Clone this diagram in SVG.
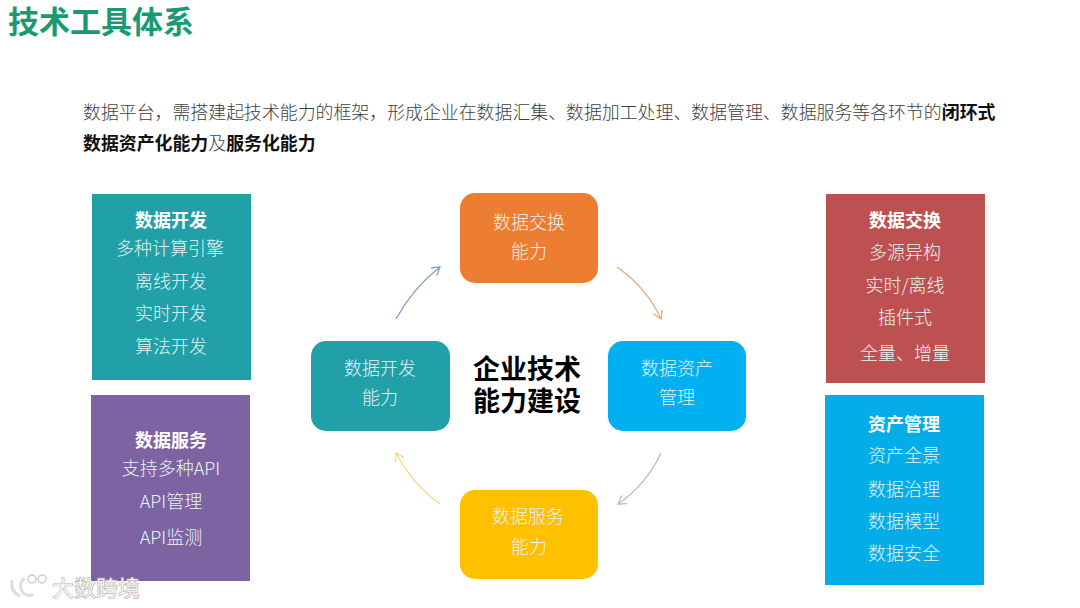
<svg xmlns="http://www.w3.org/2000/svg" width="1080" height="608" viewBox="0 0 1080 608">
<style>
text{font-family:"Noto Sans CJK SC","Liberation Sans",sans-serif}
.l{font-size:18px;fill:#e4f4f4;text-anchor:middle;font-weight:300}
.h{font-size:18px;fill:#fff;text-anchor:middle;font-weight:700}
.n{font-size:18px;fill:#e8f2f4;text-anchor:middle;font-weight:300}
.b{font-size:17.9px;fill:#404040;font-weight:300}
.bb{fill:#111;font-weight:700}
.c{font-size:27px;fill:#000;text-anchor:middle;font-weight:700}
.a{fill:none;stroke-width:1.2}
</style>
<defs>
<marker id="m1" markerWidth="12" markerHeight="12" refX="9" refY="5" orient="auto" markerUnits="userSpaceOnUse"><path d="M1 0L9 5L1 10" fill="none" stroke="#7f9bc0" stroke-width="1.2"/></marker>
<marker id="m2" markerWidth="12" markerHeight="12" refX="9" refY="5" orient="auto" markerUnits="userSpaceOnUse"><path d="M1 0L9 5L1 10" fill="none" stroke="#e0a878" stroke-width="1.2"/></marker>
<marker id="m3" markerWidth="12" markerHeight="12" refX="9" refY="5" orient="auto" markerUnits="userSpaceOnUse"><path d="M1 0L9 5L1 10" fill="none" stroke="#b8b8c0" stroke-width="1.2"/></marker>
<marker id="m4" markerWidth="12" markerHeight="12" refX="9" refY="5" orient="auto" markerUnits="userSpaceOnUse"><path d="M1 0L9 5L1 10" fill="none" stroke="#f2d67a" stroke-width="1.2"/></marker>
</defs>
<rect width="1080" height="608" fill="#fff"/>
<g id="title"><text x="8" y="33" font-weight="700" fill="#1a9a72" style="font-size:31px">技术工具体系</text></g>
<g id="intro">
<text class="b" x="83" y="119">数据平台，需搭建起技术能力的框架，形成企业在数据汇集、数据加工处理、数据管理、数据服务等各环节的<tspan class="bb">闭环式</tspan></text>
<text class="b" x="83" y="150"><tspan class="bb">数据资产化能力</tspan>及<tspan class="bb">服务化能力</tspan></text>
</g>
<g id="connectors">
<path class="a" d="M396 319Q413 288 440 267" stroke="#7f9bc0" marker-end="url(#m1)"/>
<path class="a" d="M617 267Q647 288 661 319" stroke="#e0a878" marker-end="url(#m2)"/>
<path class="a" d="M661 453Q646 485 618 504" stroke="#b8b8c0" marker-end="url(#m3)"/>
<path class="a" d="M440 504Q414 486 396 453" stroke="#f2d67a" marker-end="url(#m4)"/>
</g>
<g id="card-dev"><rect x="92" y="194" width="159" height="186" fill="#21a0a8"/>
<text class="h" x="171" y="227">数据开发</text><text class="l" x="170" y="255">多种计算引擎</text><text class="l" x="171" y="288">离线开发</text><text class="l" x="171" y="320">实时开发</text><text class="l" x="171" y="353">算法开发</text></g>
<g id="card-svc"><rect x="91" y="395" width="159" height="186" fill="#7e63a3"/>
<text class="h" x="171" y="447">数据服务</text><text class="l" x="171" y="475">支持多种API</text><text class="l" x="171" y="508">API管理</text><text class="l" x="171" y="544">API监测</text></g>
<g id="card-exc"><rect x="826" y="194" width="159" height="189" fill="#bd5151"/>
<text class="h" x="905" y="227">数据交换</text><text class="l" x="905" y="259">多源异构</text><text class="l" x="905" y="292">实时/离线</text><text class="l" x="905" y="324">插件式</text><text class="l" x="905" y="360">全量、增量</text></g>
<g id="card-asset"><rect x="825" y="395" width="159" height="190" fill="#05ade8"/>
<text class="h" x="904" y="431">资产管理</text><text class="l" x="904" y="462">资产全景</text><text class="l" x="904" y="496">数据治理</text><text class="l" x="904" y="528">数据模型</text><text class="l" x="904" y="560">数据安全</text></g>
<g id="node-exchange"><rect x="460" y="193" width="138" height="90" rx="15" fill="#ed7d31"/><text class="n" x="529" y="229">数据交换</text><text class="n" x="529" y="258">能力</text></g>
<g id="node-asset"><rect x="608" y="341" width="138" height="90" rx="15" fill="#00b0f0"/><text class="n" x="677" y="375">数据资产</text><text class="n" x="677" y="404">管理</text></g>
<g id="node-service"><rect x="460" y="490" width="138" height="89" rx="15" fill="#ffc000"/><text class="n" x="528" y="523">数据服务</text><text class="n" x="529" y="553">能力</text></g>
<g id="node-dev"><rect x="311" y="341" width="139" height="90" rx="15" fill="#21a0a8"/><text class="n" x="380" y="375">数据开发</text><text class="n" x="380" y="404">能力</text></g>
<g id="center"><text class="c"><tspan x="527" y="379">企业技术</tspan><tspan x="527" y="411">能力建设</tspan></text></g>
<g id="watermark"><text x="52" y="596" style="font-size:22px;fill:#fff;stroke:#bbb;stroke-width:.7;font-weight:500">大数跨境</text>
<path d="M12 580Q10 592 20 596M24 578Q17 586 24 594Q30 597 33 594" fill="none" stroke="#ddd" stroke-width="3"/><circle cx="32" cy="579" r="4" fill="#fff" stroke="#ccc" stroke-width="1.5"/><circle cx="42" cy="579" r="4" fill="#fff" stroke="#ccc" stroke-width="1.5"/></g>
</svg>
